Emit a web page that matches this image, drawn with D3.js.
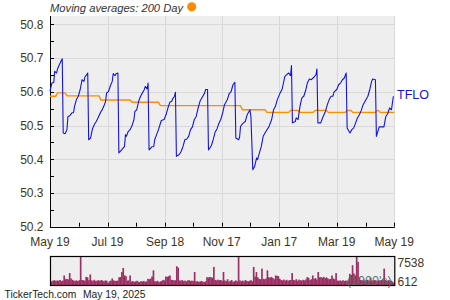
<!DOCTYPE html>
<html>
<head>
    <title>TFLO</title>
    <script src="https://cdnjs.cloudflare.com/ajax/libs/d3/7.8.5/d3.min.js"></script>
    <style>
        body { margin: 0; background: #ffffff; }
        text { font-family: "Liberation Sans", Arial, sans-serif; }
    </style>
</head>
<body>
    <svg width="450" height="300" id="mainsvg"></svg>
    <script>
        // price series: days after May 19, 2024 and closing price
        const priceDays = [0, 2, 4, 5, 7, 8, 10, 12, 13, 14, 16, 18, 19, 21, 23, 25, 26, 28, 30, 32, 34, 36, 37, 39, 40,
            41, 43, 45, 47, 49, 51, 54, 55, 57, 59, 60, 62, 64, 66, 67, 69, 70, 72,
            73, 76, 79, 80, 81, 83, 85, 87, 89, 90, 92, 94, 96, 98, 100, 101, 103, 104,
            105, 108, 110, 111, 113, 115, 118, 121, 123, 125, 127, 129, 130, 132, 133,
            134, 137, 139, 141, 143, 145, 147, 149, 151, 153, 155, 157, 159, 162, 164, 165, 167,
            168, 171, 173, 175, 177, 179, 181, 183, 185, 188, 190, 192, 194, 196,
            197, 200, 201, 202, 205, 207, 209, 212, 213,
            215, 217, 219, 220, 222, 224, 226, 229, 232, 235, 237, 239, 241, 244, 246, 249, 251, 253, 255, 256,
            257, 260, 261, 263, 265, 267, 269, 271, 273, 275, 277, 280, 282, 283,
            284, 287, 289, 292, 294, 296, 298, 300, 301, 304, 306, 308, 310, 312, 314,
            315, 318, 320, 322, 324, 326, 328, 330, 332, 335, 337, 339, 341, 342, 345,
            346, 349, 351, 354, 356, 358, 360, 362, 364];
        const prices = [50.602, 50.626, 50.628, 50.661, 50.656, 50.668, 50.681, 50.693, 50.698, 50.478, 50.476, 50.488, 50.527, 50.529, 50.537, 50.539, 50.557, 50.577, 50.587, 50.607, 50.636, 50.631, 50.644, 50.651, 50.656,
            50.458, 50.463, 50.490, 50.503, 50.512, 50.523, 50.542, 50.545, 50.557, 50.572, 50.597, 50.601, 50.618, 50.631, 50.654, 50.648, 50.654, 50.656,
            50.419, 50.428, 50.438, 50.473, 50.468, 50.483, 50.488, 50.500, 50.518, 50.542, 50.547, 50.572, 50.587, 50.597, 50.607, 50.616, 50.609, 50.626,
            50.428, 50.437, 50.438, 50.458, 50.473, 50.488, 50.515, 50.518, 50.532, 50.552, 50.569, 50.572, 50.579, 50.587, 50.599,
            50.409, 50.414, 50.423, 50.438, 50.458, 50.460, 50.468, 50.488, 50.496, 50.518, 50.527, 50.552, 50.572, 50.587, 50.597, 50.607, 50.607,
            50.428, 50.440, 50.458, 50.480, 50.490, 50.506, 50.518, 50.537, 50.562, 50.577, 50.595, 50.601, 50.621, 50.628,
            50.463, 50.458, 50.466, 50.498, 50.508, 50.512, 50.532, 50.547, 50.527,
            50.369, 50.379, 50.404, 50.399, 50.419, 50.438, 50.468, 50.483, 50.496, 50.518, 50.547, 50.557, 50.577, 50.597, 50.607, 50.646, 50.651, 50.656, 50.648, 50.678,
            50.508, 50.512, 50.523, 50.518, 50.557, 50.582, 50.587, 50.604, 50.628, 50.638, 50.636, 50.644, 50.651, 50.668,
            50.508, 50.508, 50.523, 50.542, 50.562, 50.577, 50.587, 50.587, 50.599, 50.607, 50.621, 50.626, 50.636, 50.641, 50.656,
            50.493, 50.478, 50.488, 50.493, 50.508, 50.523, 50.532, 50.545, 50.562, 50.577, 50.587, 50.607, 50.631, 50.638, 50.636,
            50.468, 50.496, 50.496, 50.496, 50.527, 50.535, 50.552, 50.547, 50.587];

        // 200 day moving average, break points
        const maDays = [0, 6, 8, 16, 18, 52, 54, 85, 87, 115, 117, 202, 204, 228, 230, 253, 255, 263, 265, 279, 281, 293, 295, 313, 315, 319, 321, 345, 347, 348, 350, 365];
        const maValues = [50.587, 50.587, 50.597, 50.597, 50.588, 50.588, 50.576, 50.576, 50.569, 50.569, 50.559, 50.559, 50.547, 50.547, 50.539, 50.539,
            50.545, 50.545, 50.539, 50.539, 50.545, 50.545, 50.539, 50.539, 50.545, 50.545, 50.539, 50.539, 50.545, 50.545, 50.539, 50.539];

        // daily volume (1000's)
        const volumes = [980, 1150, 1240, 1050, 1180, 1120, 1300, 1000, 1150, 2480, 1500, 1600, 1450, 3100, 1700, 1350,
            1150, 1080, 1200, 1000, 1250, 7538, 1300, 1250, 1100, 2100, 2000, 1250, 2750,
            1200, 1100, 1350, 1000, 1150, 1250, 1050, 1300, 1150, 980, 1200, 1100, 550,
            1000, 1150, 1700, 1200, 1100, 1050, 1150, 2000, 2100, 3370, 4430, 2500, 2300, 1150, 1200, 2480,
            900, 1050, 800, 950, 1100, 870, 760, 1000, 900, 1050, 820, 950, 1600, 1500, 1650, 2200, 3810,
            1000, 900, 1100, 750, 950, 1050, 1330, 1200, 2200, 2100, 2300, 2480, 1350, 1300, 1200, 1250, 4880, 4520,
            1200, 1100, 1300, 1000, 1150, 950, 1200, 1250, 1050, 1150, 1000, 3370,
            900, 1000, 800, 950, 1050, 870, 760, 980, 2040, 1950, 2100, 2000, 1900, 4700,
            1300, 1200, 1400, 1250, 1300, 1100, 3370, 1200, 1000, 1500, 900, 1100, 1300, 800, 1000, 1200, 950, 7538,
            1200, 1000, 1150, 900, 1300, 1050, 950, 1100, 1250, 1000, 4700, 2200, 3370, 2000, 1600, 1500, 4260,
            1600, 1500, 1700, 3810, 2040, 1900, 2100, 1800, 1500, 2480, 2400, 2300,
            1600, 1300, 1200, 1400, 1150, 1350, 1100, 1250, 1300, 3100,
            1300, 1200, 1500, 1100, 1400, 1250, 1150, 1350, 1200, 1450, 2040, 1900, 1300, 1500, 2480, 1600, 1800, 1400, 3370,
            2000, 2040, 1900, 2100, 1800, 2000, 1700, 1500, 1600, 2480, 1700, 1500, 3100,
            1150, 1100, 1200, 1000, 1250, 1050, 1150, 1100, 1200, 2900, 2600, 5140, 3000, 2500, 7538, 6000, 2000,
            1300, 1200, 1400, 1100, 1250, 1350, 1150, 1900, 1200, 1100, 1300, 1200, 1000, 1250, 1150, 1300, 1400, 4260,
            1300, 1100, 1250, 1200, 1150, 900, 612];

        const tickDates = ['2024-05-19', '2024-07-19', '2024-09-18', '2024-11-17', '2025-01-17', '2025-03-19', '2025-05-19'];
        const tickLabels = ['May 19', 'Jul 19', 'Sep 18', 'Nov 17', 'Jan 17', 'Mar 19', 'May 19'];
        const yTicks = [50.2, 50.3, 50.4, 50.5, 50.6, 50.7, 50.8];

        const svg = d3.select('#mainsvg');
        const plot = { left: 50, right: 394.3, top: 16, bottom: 226.7 };
        const vol = { top: 256, bottom: 285 };
        const labelColor = '#3f3418';

        const parse = d3.timeParse('%Y-%m-%d');
        const start = parse(tickDates[0]);
        const end = parse(tickDates[tickDates.length - 1]);

        const xScale = d3.scaleTime().domain([start, end]).range([plot.left, plot.right]);
        const yScale = d3.scaleLinear().domain([50.2, 50.825]).range([plot.bottom, plot.top]);

        // background + grid
        svg.append('rect')
            .attr('x', plot.left).attr('y', plot.top)
            .attr('width', plot.right - plot.left).attr('height', plot.bottom - plot.top)
            .attr('fill', '#eeeeee');

        const grid = svg.append('g').attr('stroke', '#d9d9d9').attr('stroke-width', 1);
        grid.selectAll('.hg').data(yTicks.slice(1)).join('line')
            .attr('x1', plot.left).attr('x2', plot.right)
            .attr('y1', d => Math.round(yScale(d)) + 0.5).attr('y2', d => Math.round(yScale(d)) + 0.5);
        grid.selectAll('.vg').data(tickDates.slice(1)).join('line')
            .attr('y1', plot.top).attr('y2', plot.bottom)
            .attr('x1', d => Math.round(xScale(parse(d))) + 0.5).attr('x2', d => Math.round(xScale(parse(d))) + 0.5);

        // axes: ticks pointing inward
        const xMajor = tickDates.map(parse);
        const xMinor = d3.pairs(xMajor).map(p => new Date((+p[0] + +p[1]) / 2));
        const yMinor = d3.pairs(yTicks).map(p => (p[0] + p[1]) / 2);

        const axisG = svg.append('g').attr('stroke', '#000').attr('stroke-width', 1);
        axisG.selectAll('.xt').data(xMajor.concat(xMinor)).join('line')
            .attr('x1', d => Math.round(xScale(d)) + 0.5).attr('x2', d => Math.round(xScale(d)) + 0.5)
            .attr('y1', plot.bottom).attr('y2', plot.bottom - 4);
        axisG.selectAll('.yt').data(yTicks.concat(yMinor)).join('line')
            .attr('y1', d => Math.round(yScale(d)) + 0.5).attr('y2', d => Math.round(yScale(d)) + 0.5)
            .attr('x1', plot.left).attr('x2', plot.left + 4);
        axisG.append('line')
            .attr('x1', plot.left + 0.5).attr('x2', plot.left + 0.5)
            .attr('y1', plot.top).attr('y2', plot.bottom + 0.5);
        axisG.append('line')
            .attr('x1', plot.left).attr('x2', plot.right + 0.5)
            .attr('y1', Math.round(plot.bottom) + 0.5).attr('y2', Math.round(plot.bottom) + 0.5);

        svg.selectAll('.ylab').data(yTicks).join('text')
            .attr('x', 43.5).attr('y', d => yScale(d) + 4.3)
            .attr('text-anchor', 'end').attr('font-size', 12).attr('fill', labelColor)
            .text(d => d.toFixed(1));
        svg.selectAll('.xlab').data(xMajor).join('text')
            .attr('x', d => xScale(d)).attr('y', 246)
            .attr('text-anchor', 'middle').attr('font-size', 12).attr('fill', labelColor)
            .text((d, i) => tickLabels[i]);

        // moving average
        const maData = maDays.map((d, i) => ({ date: d3.timeDay.offset(start, d), v: maValues[i] }));
        svg.append('path').datum(maData)
            .attr('fill', 'none').attr('stroke', '#ff8c00').attr('stroke-width', 1.4)
            .attr('d', d3.line().x(d => xScale(d.date)).y(d => yScale(d.v)));

        // price line
        const priceData = priceDays.map((d, i) => ({ date: d3.timeDay.offset(start, d), v: prices[i] }));
        svg.append('path').datum(priceData)
            .attr('fill', 'none').attr('stroke', '#1414dc').attr('stroke-width', 1.1)
            .attr('stroke-linejoin', 'round')
            .attr('d', d3.line().x(d => xScale(d.date)).y(d => yScale(d.v)));

        svg.append('text')
            .attr('x', 397).attr('y', 99)
            .attr('font-size', 12.5).attr('fill', '#1414c8')
            .text('TFLO');

        // legend line at top
        svg.append('text')
            .attr('x', 50).attr('y', 12)
            .attr('font-size', 11.2).attr('font-style', 'italic').attr('fill', '#333333')
            .text('Moving averages: 200 Day');
        svg.append('circle')
            .attr('cx', 191.7).attr('cy', 6.8).attr('r', 4.6)
            .attr('fill', '#ff8c00');

        // volume panel
        const xVol = d3.scaleBand().domain(d3.range(volumes.length)).range([plot.left + 1, plot.right]).padding(0);
        const yVol = d3.scaleLinear().domain([0, d3.max(volumes)]).range([vol.bottom, vol.top]);

        svg.append('rect')
            .attr('x', plot.left + 0.5).attr('y', vol.top + 0.5)
            .attr('width', plot.right - plot.left).attr('height', vol.bottom - vol.top)
            .attr('fill', '#eeeeee');
        svg.append('g').selectAll('rect').data(volumes).join('rect')
            .attr('x', (d, i) => xVol(i))
            .attr('width', xVol.bandwidth() + 0.3)
            .attr('y', d => yVol(d))
            .attr('height', d => vol.bottom - yVol(d))
            .attr('fill', '#9c2f63');
        svg.append('rect')
            .attr('x', plot.left + 0.5).attr('y', vol.top + 0.5)
            .attr('width', plot.right - plot.left).attr('height', vol.bottom - vol.top)
            .attr('fill', 'none').attr('stroke', '#000').attr('stroke-width', 1.2);

        svg.append('text')
            .attr('x', 347).attr('y', 285)
            .attr('font-size', 12.5).attr('fill', '#4f7262').attr('opacity', 0.9)
            .text("(1000's)");
        svg.append('text')
            .attr('x', 397.5).attr('y', 267)
            .attr('font-size', 12).attr('fill', labelColor)
            .text(d3.max(volumes));
        svg.append('text')
            .attr('x', 397.5).attr('y', yVol(volumes[volumes.length - 1]) + 3.8)
            .attr('font-size', 12).attr('fill', labelColor)
            .text(volumes[volumes.length - 1]);

        svg.append('text')
            .attr('x', 4.5).attr('y', 298)
            .attr('font-size', 10.3).attr('fill', '#222222')
            .text('TickerTech.com');
        svg.append('text')
            .attr('x', 83).attr('y', 298)
            .attr('font-size', 10.3).attr('fill', '#222222')
            .text('May 19, 2025');
    </script>
</body>
</html>
